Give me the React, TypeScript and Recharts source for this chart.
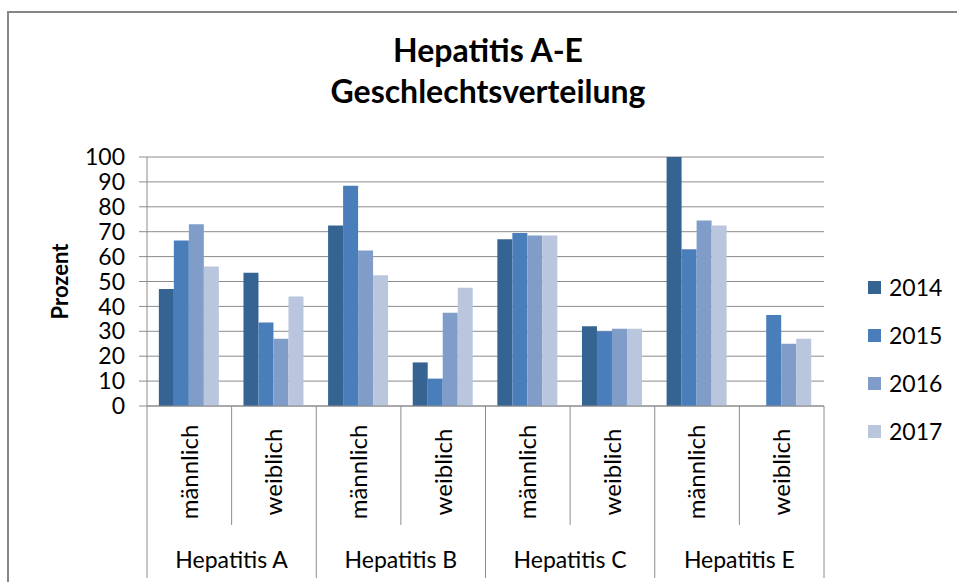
import React from 'react';
import { BarChart, Bar, XAxis, YAxis, CartesianGrid, Legend } from 'recharts';

// ---- data ----
const groupLabels = ['Hepatitis A', 'Hepatitis B', 'Hepatitis C', 'Hepatitis E'];
const sexLabels = ['männlich', 'weiblich', 'männlich', 'weiblich', 'männlich', 'weiblich', 'männlich', 'weiblich'];
const years = ['2014', '2015', '2016', '2017'];
const v2014 = [47, 53.5, 72.5, 17.5, 67, 32, 100, 0];
const v2015 = [66.5, 33.5, 88.5, 11, 69.5, 30, 63, 36.5];
const v2016 = [73, 27, 62.5, 37.5, 68.5, 31, 74.5, 25];
const v2017 = [56, 44, 52.5, 47.5, 68.5, 31, 72.5, 27];
const yTicks = [0, 10, 20, 30, 40, 50, 60, 70, 80, 90, 100];

const data = sexLabels.map((sex, i) => ({
  key: `${groupLabels[Math.floor(i / 2)]}-${sex}`,
  sex,
  group: groupLabels[Math.floor(i / 2)],
  y2014: v2014[i],
  y2015: v2015[i],
  y2016: v2016[i],
  y2017: v2017[i],
}));

// ---- style / layout ----
const W = 957;
const H = 582;
const MARGIN = { top: 157, right: 133, bottom: 0, left: 87 };
const Y_AXIS_W = 60;
const X_AXIS_H = 176;
const BAND = (W - MARGIN.left - MARGIN.right - Y_AXIS_W) / data.length;
const GRID = '#8c8c8c';
const FONT = 'Lato, "Open Sans", sans-serif';
const COLORS = ['#366492', '#4a7ebb', '#7f9dc8', '#b9c6dd'];

function CategoryTick(props: any) {
  const { x, y, payload } = props;
  const i = payload.index;
  const half = BAND / 2;
  const isFirst = i % 2 === 0;
  return (
    <g>
      <line x1={x - half} x2={x - half} y1={y} y2={y + (isFirst ? 172 : 119)} stroke={GRID} strokeWidth={1} />
      {i === data.length - 1 && (
        <line x1={x + half} x2={x + half} y1={y} y2={y + 172} stroke={GRID} strokeWidth={1} />
      )}
      <text
        transform={`translate(${x},${y + 66}) rotate(-90)`}
        textAnchor="middle"
        dy="0.35em"
        fontSize={24}
        fontFamily={FONT}
        fill="#000"
      >
        {sexLabels[i]}
      </text>
      {isFirst && (
        <text x={x + half} y={y + 162} textAnchor="middle" fontSize={23} fontFamily={FONT} fill="#000">
          {groupLabels[i / 2]}
        </text>
      )}
    </g>
  );
}

function LegendContent(props: any) {
  const { payload } = props;
  return (
    <div>
      {(payload || []).map((entry: any) => (
        <div key={entry.value} style={{ height: 48, display: 'flex', alignItems: 'center' }}>
          <span style={{ display: 'inline-block', width: 13, height: 13, background: entry.color, marginRight: 8 }} />
          <span style={{ fontSize: 23, fontFamily: FONT, color: '#000', lineHeight: '48px' }}>{entry.value}</span>
        </div>
      ))}
    </div>
  );
}

function YLabel(props: any) {
  const vb = props.viewBox || { x: 87, y: 157, width: 60, height: 249 };
  const cx = vb.x - 27;
  const cy = vb.y + vb.height / 2;
  return (
    <text
      transform={`translate(${cx},${cy}) rotate(-90)`}
      textAnchor="middle"
      dy="0.35em"
      fontSize={22}
      fontWeight="bold"
      fontFamily={FONT}
      fill="#000"
    >
      Prozent
    </text>
  );
}

export default function App() {
  return (
    <div style={{ position: 'absolute', left: 0, top: 0, width: W, height: H, overflow: 'hidden', background: '#fff' }}>
      <div
        style={{
          position: 'absolute',
          left: 7,
          top: 11,
          width: 1000,
          height: 700,
          border: '2px solid #868686',
          boxSizing: 'border-box',
        }}
      />
      <div
        style={{
          position: 'absolute',
          left: 0,
          top: 29,
          width: 976,
          textAlign: 'center',
          fontFamily: FONT,
          fontWeight: 'bold',
          fontSize: 32,
          lineHeight: '41px',
          color: '#000',
        }}
      >
        Hepatitis A-E
        <br />
        Geschlechtsverteilung
      </div>
      <div style={{ position: 'absolute', left: 0, top: 0 }}>
        <BarChart width={W} height={H} data={data} margin={MARGIN} barGap={0} barCategoryGap="14%">
          <CartesianGrid vertical={false} stroke={GRID} strokeDasharray="" />
          <XAxis
            dataKey="key"
            height={X_AXIS_H}
            interval={0}
            tickLine={false}
            tickSize={0}
            tickMargin={0}
            axisLine={{ stroke: GRID }}
            tick={<CategoryTick />}
          />
          <YAxis
            width={Y_AXIS_W}
            domain={[0, 100]}
            ticks={yTicks}
            interval={0}
            tickSize={8}
            tickMargin={14}
            axisLine={{ stroke: GRID }}
            tickLine={{ stroke: GRID }}
            tick={{ fontSize: 23, fontFamily: FONT, fill: '#000' }}
            label={{ content: <YLabel /> }}
          />
          <Legend
            layout="vertical"
            verticalAlign="middle"
            align="center"
            wrapperStyle={{ position: 'absolute', left: 868, top: 263, width: 89, margin: 0 }}
            content={<LegendContent />}
          />
          <Bar dataKey="y2014" name={years[0]} fill={COLORS[0]} isAnimationActive={false} />
          <Bar dataKey="y2015" name={years[1]} fill={COLORS[1]} isAnimationActive={false} />
          <Bar dataKey="y2016" name={years[2]} fill={COLORS[2]} isAnimationActive={false} />
          <Bar dataKey="y2017" name={years[3]} fill={COLORS[3]} isAnimationActive={false} />
        </BarChart>
      </div>
    </div>
  );
}
